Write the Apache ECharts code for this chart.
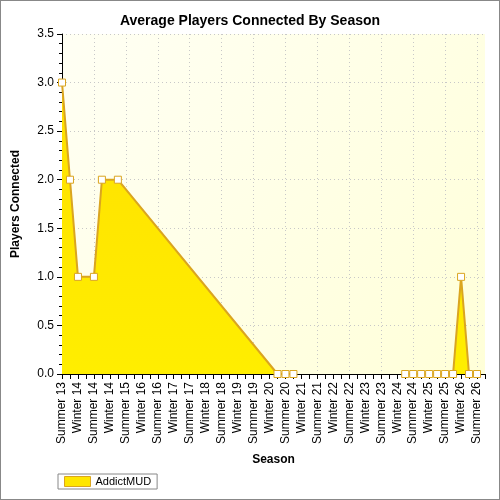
<!DOCTYPE html>
<html><head><meta charset="utf-8">
<script src="https://cdn.jsdelivr.net/npm/echarts@6/dist/echarts.min.js"></script>
<style>html,body{margin:0;padding:0;background:#fff}#c{width:500px;height:500px;box-sizing:border-box;border:1px solid #888}</style>
</head><body><div id="c"></div>
<script>
const seasonLabels = ["Summer 13","Winter 14","Summer 14","Winter 14","Summer 15","Winter 16","Summer 16","Winter 17","Summer 17","Winter 18","Summer 18","Winter 19","Summer 19","Winter 20","Summer 20","Winter 21","Summer 21","Winter 22","Summer 22","Winter 23","Summer 23","Winter 24","Summer 24","Winter 25","Summer 25","Winter 26","Summer 26"];
// positions in season units (label index), half steps
const pointPos = [0,0.5,1,2,2.5,3.5,13.5,14,14.5,null,21.5,22,22.5,23,23.5,24,24.5,25,25.5,26];
const pointVal = [3,2,1,1,2,2,0,0,0,null,0,0,0,0,0,0,0,1,0,0];
const yTicks = [0,0.5,1,1.5,2,2.5,3,3.5];

const cats = [];
for (let i = 0; i < seasonLabels.length * 2; i++) cats.push(i % 2 === 0 ? seasonLabels[i/2] : '');
const seriesData = pointPos.map((p,i) => p === null ? '-' : [p*2, pointVal[i]]);

const chart = echarts.init(document.getElementById('c'));
chart.setOption({
  animation:false,
  title:{text:'Average Players Connected By Season',left:'center',top:8,textStyle:{fontFamily:'Liberation Sans',fontWeight:'bold',fontSize:14,color:'#000'}},
  grid:{left:61,right:14,top:33,bottom:125,show:true,backgroundColor:new echarts.graphic.LinearGradient(0,0,1,1,[{offset:0,color:'#FFFFF4'},{offset:1,color:'#FFFFD8'}]),borderWidth:0},
  xAxis:{type:'category',data:cats,boundaryGap:false,name:'Season',nameLocation:'middle',nameGap:80,
    nameTextStyle:{fontFamily:'Liberation Sans',fontWeight:'bold',fontSize:12,color:'#000'},
    axisLine:{lineStyle:{color:'#000'}},axisTick:{interval:0,length:5,lineStyle:{color:'#000'}},
    axisLabel:{interval:1,rotate:90,fontFamily:'Liberation Sans',fontSize:12,color:'#000',margin:8},
    splitLine:{show:true,interval:3,lineStyle:{color:'#c8c8c8',type:[1,3]}}},
  yAxis:{type:'value',min:0,max:3.5,interval:0.5,name:'Players Connected',nameLocation:'middle',nameGap:40,
    nameTextStyle:{fontFamily:'Liberation Sans',fontWeight:'bold',fontSize:12,color:'#000'},
    axisLine:{show:true,lineStyle:{color:'#000'}},axisTick:{show:true,length:5,lineStyle:{color:'#000'}},
    minorTick:{show:true,splitNumber:5,length:3,lineStyle:{color:'#000'}},
    axisLabel:{formatter:v=>v.toFixed(1),fontFamily:'Liberation Sans',fontSize:12,color:'#000'},
    splitLine:{show:true,lineStyle:{color:'#c8c8c8',type:[1,3]}}},
  legend:{left:57,bottom:10,itemWidth:26,itemHeight:10,borderColor:'#888',borderWidth:1,padding:[2,6],borderRadius:0,
    textStyle:{fontFamily:'Liberation Sans',fontSize:11,color:'#000'},
    data:[{name:'AddictMUD',icon:'rect',itemStyle:{color:'#FFE600',borderColor:'#DAA520',borderWidth:1}}]},
  series:[{name:'AddictMUD',type:'line',data:seriesData,connectNulls:false,
    symbol:'rect',symbolSize:7,showAllSymbol:true,
    itemStyle:{color:'#fff',borderColor:'#DAA520',borderWidth:1},
    lineStyle:{color:'#DAA520',width:2},
    areaStyle:{color:new echarts.graphic.LinearGradient(0,0,0,1,[{offset:0,color:'#FFE000'},{offset:1,color:'#FFEE00'}]),opacity:1}}]
});
</script></body></html>
